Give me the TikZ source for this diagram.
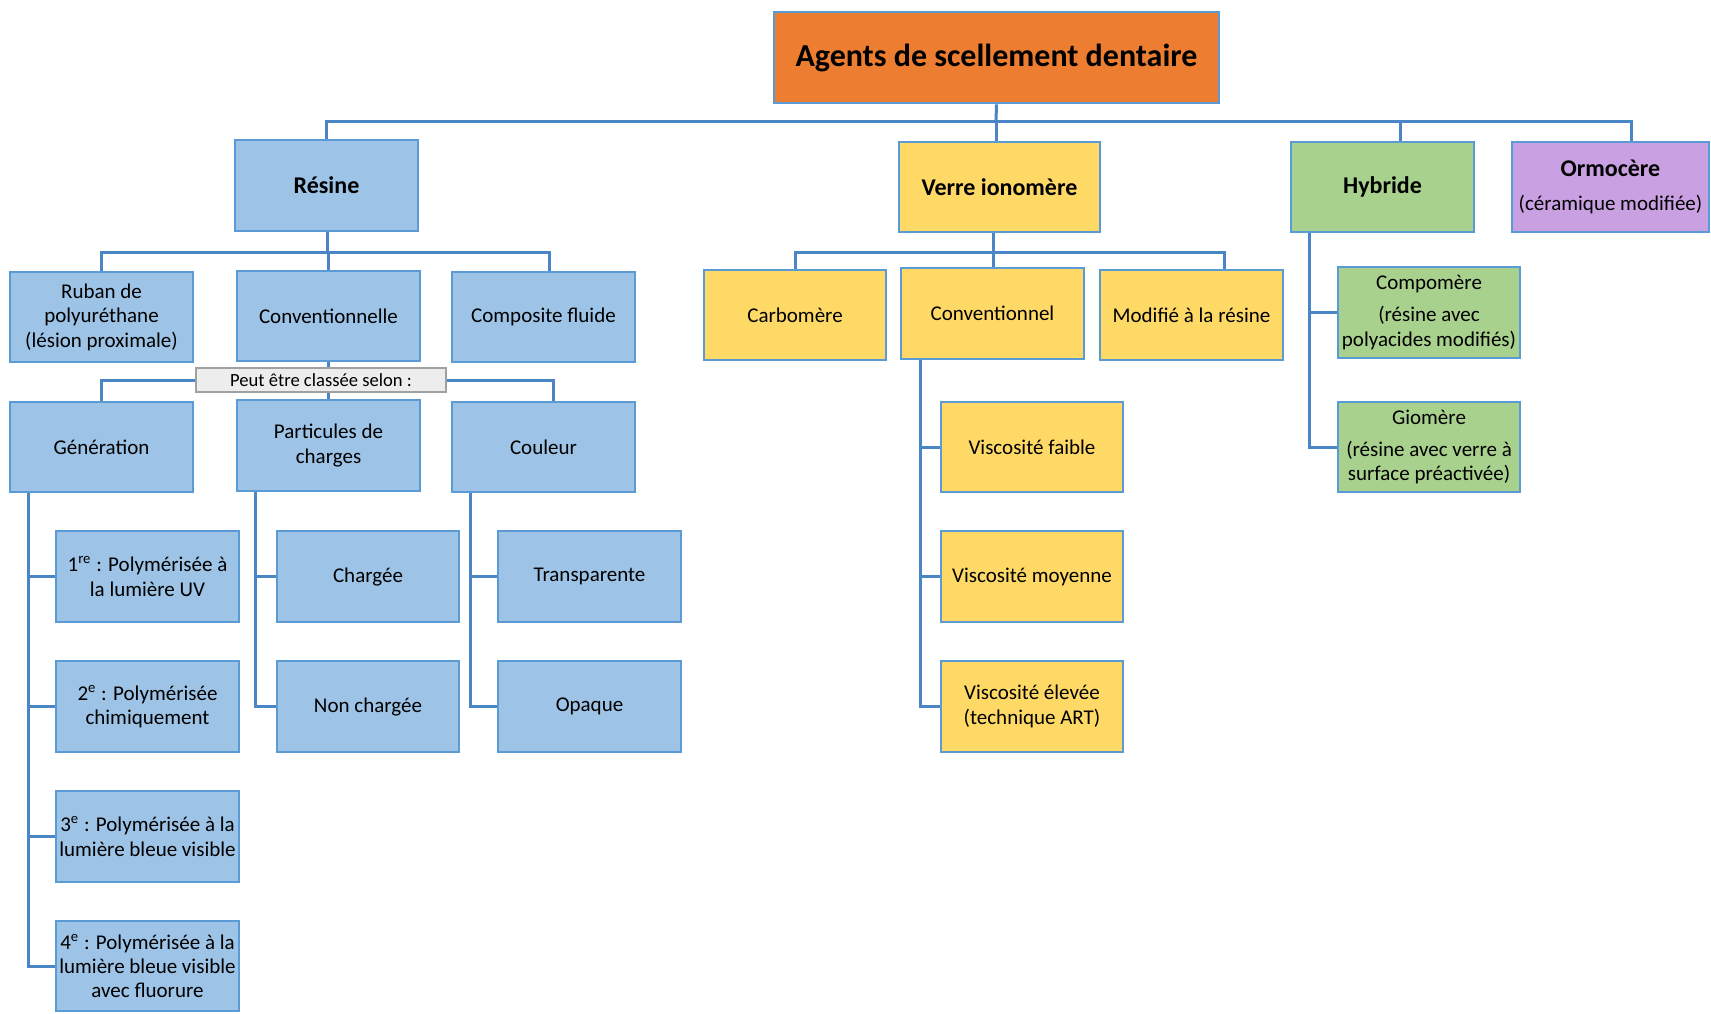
\documentclass[tikz,border=0pt]{standalone}
\usepackage{fontspec}
\setmainfont{Carlito}
\definecolor{bordc}{HTML}{5B9BD5}
\definecolor{linec}{HTML}{4A86C5}
\definecolor{bluef}{HTML}{9DC3E6}
\definecolor{orangef}{HTML}{ED7D31}
\definecolor{yellowf}{HTML}{FFD966}
\definecolor{greenf}{HTML}{A9D18E}
\definecolor{purplef}{HTML}{C9A0E2}
\definecolor{grayf}{HTML}{EDEDED}
\definecolor{grayb}{HTML}{A0A0A0}
\newcommand\bx[7]{\node[box,#6,minimum width={((#4)-(#2))*0.5pt},minimum height={((#5)-(#3))*0.5pt}] (#1) at ({((#2)+(#4))/2},{((#3)+(#5))/2}) {#7};}
\tikzset{
  box/.style={draw=bordc,line width=1.3pt,align=center,inner sep=1pt,font=\fontsize{10.5}{12.2}\selectfont},
  bl/.style={fill=bluef},
  ye/.style={fill=yellowf},
  gr/.style={fill=greenf},
  pu/.style={fill=purplef},
  conn/.style={draw=linec,line width=1.5pt},
  bigb/.style={font=\fontsize{12}{14.5}\selectfont\bfseries}
}
\begin{document}
\begin{tikzpicture}[x=0.5pt,y=-0.5pt]
\fill[white] (0,0) rectangle (1711,1013);
\useasboundingbox (0,0) rectangle (1711,1013);
% top
\bx{title}{774}{12}{1219}{103}{fill=orangef,font=\fontsize{16}{19}\selectfont\bfseries}{Agents de scellement dentaire}
\bx{resine}{235}{140}{418}{231}{bl,bigb}{Résine}
\bx{verre}{899}{142}{1100}{232}{ye,bigb}{Verre ionomère}
\bx{hyb}{1291}{142}{1474}{232}{gr,bigb}{Hybride}
\bx{ormo}{1512}{142}{1709}{232}{pu}{{\fontsize{12}{14.5}\selectfont\bfseries Ormocère}\\[5pt](céramique modifiée)}
% resine children
\bx{ruban}{10}{272}{193}{362}{bl}{Ruban de\\polyuréthane\\(lésion proximale)}
\bx{conv}{237}{271}{420}{361}{bl}{Conventionnelle}
\bx{compo}{452}{272}{635}{362}{bl}{Composite fluide}
\node[draw=grayb,fill=grayf,line width=0.8pt,minimum width=125pt,minimum height=12pt,inner sep=1pt,font=\fontsize{9.3}{11}\selectfont] (peut) at (321,380) {Peut être classée selon :};
\bx{gen}{10}{402}{193}{492}{bl}{Génération}
\bx{part}{237}{400}{420}{491}{bl}{Particules de\\charges}
\bx{coul}{452}{402}{635}{492}{bl}{Couleur}
\bx{g1}{56}{531}{239}{622}{bl}{1\textsuperscript{re} : Polymérisée à\\la lumière UV}
\bx{g2}{56}{661}{239}{752}{bl}{2\textsuperscript{e} : Polymérisée\\chimiquement}
\bx{g3}{56}{791}{239}{882}{bl}{3\textsuperscript{e} : Polymérisée à la\\lumière bleue visible}
\bx{g4}{56}{921}{239}{1011}{bl}{4\textsuperscript{e} : Polymérisée à la\\lumière bleue visible\\avec fluorure}
\bx{p1}{277}{531}{459}{622}{bl}{Chargée}
\bx{p2}{277}{661}{459}{752}{bl}{Non chargée}
\bx{c1}{498}{531}{681}{622}{bl}{Transparente}
\bx{c2}{498}{661}{681}{752}{bl}{Opaque}
% verre children
\bx{carbo}{704}{270}{886}{360}{ye}{Carbomère}
\bx{vconv}{901}{268}{1084}{359}{ye}{Conventionnel}
\bx{modif}{1100}{270}{1283}{360}{ye}{Modifié à la résine}
\bx{v1}{941}{402}{1123}{492}{ye}{Viscosité faible}
\bx{v2}{941}{531}{1123}{622}{ye}{Viscosité moyenne}
\bx{v3}{941}{661}{1123}{752}{ye}{Viscosité élevée\\(technique ART)}
% hybride children
\bx{h1}{1338}{267}{1520}{358}{gr}{Compomère\\[4pt](résine avec\\polyacides modifiés)}
\bx{h2}{1338}{402}{1520}{492}{gr}{Giomère\\[4pt](résine avec verre à\\surface préactivée)}
% coordinates
\coordinate (bus1) at (996,121);
\coordinate (hx) at (1400,0);
\coordinate (ox) at (1631,0);
\coordinate (bus2) at (327,252);
\coordinate (cx) at (549,0);
\coordinate (bus3) at (993,252);
\coordinate (mx) at (1224,0);
\coordinate (gx) at (28,0);
\coordinate (px) at (255,0);
\coordinate (kx) at (470,0);
\coordinate (vx) at (920,0);
\coordinate (yx) at (1309,0);
\coordinate (qx) at (553,0);
% connectors
\draw[conn] (title.south) -- (bus1);
\draw[conn] (resine.north) |- (bus1);
\draw[conn] (verre.north -| bus1) -- (bus1);
\draw[conn] (bus1) -| (hyb.north -| hx);
\draw[conn] (bus1) -| (ormo.north -| ox);
\draw[conn] (resine.south -| bus2) -- (bus2);
\draw[conn] (ruban.north) |- (bus2) -| (compo.north -| cx);
\draw[conn] (conv.north) -- (conv.north |- bus2);
\draw[conn] (conv.south) -- (conv.south |- peut.north);
\draw[conn] (gen.north) |- (peut.west);
\draw[conn] (peut.east) -| (coul.north -| qx);
\draw[conn] (part.north) -- (part.north |- peut.south);
\draw[conn] (verre.south -| bus3) -- (bus3);
\draw[conn] (carbo.north) |- (bus3) -| (modif.north -| mx);
\draw[conn] (vconv.north -| bus3) -- (bus3);
\draw[conn] (gen.south -| gx) |- (g4.west);
\draw[conn] (g1.west) -- (g1.west -| gx);
\draw[conn] (g2.west) -- (g2.west -| gx);
\draw[conn] (g3.west) -- (g3.west -| gx);
\draw[conn] (part.south -| px) |- (p2.west);
\draw[conn] (p1.west) -- (p1.west -| px);
\draw[conn] (coul.south -| kx) |- (c2.west);
\draw[conn] (c1.west) -- (c1.west -| kx);
\draw[conn] (vconv.south -| vx) |- (v3.west);
\draw[conn] (v1.west) -- (v1.west -| vx);
\draw[conn] (v2.west) -- (v2.west -| vx);
\draw[conn] (hyb.south -| yx) |- (h2.west);
\draw[conn] (h1.west) -- (h1.west -| yx);
\end{tikzpicture}
\end{document}
